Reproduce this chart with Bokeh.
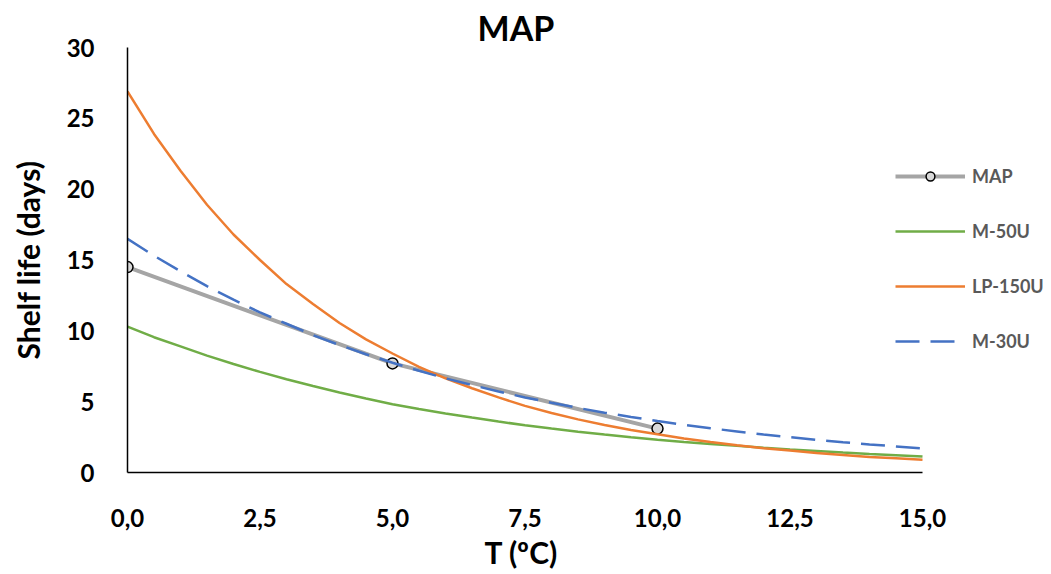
from bokeh.plotting import figure
from bokeh.models import Legend, LegendItem, FixedTicker, Range1d, Title
from bokeh.embed import file_html
from bokeh.resources import INLINE

# ---- data ----
t = [0, 0.5, 1, 1.5, 2, 2.5, 3, 3.5, 4, 4.5, 5, 5.5, 6, 6.5, 7, 7.5,
     8, 8.5, 9, 9.5, 10, 10.5, 11, 11.5, 12, 12.5, 13, 13.5, 14, 14.5, 15]
m50u = [10.3, 9.55, 8.9, 8.25, 7.66, 7.1, 6.58, 6.1, 5.65, 5.22, 4.82, 4.48, 4.17, 3.88, 3.6, 3.33,
        3.1, 2.88, 2.68, 2.49, 2.31, 2.16, 2.02, 1.88, 1.75, 1.63, 1.52, 1.41, 1.31, 1.22, 1.13]
lp150u = [26.9, 23.9, 21.3, 18.9, 16.8, 15.0, 13.3, 11.9, 10.55, 9.4, 8.4, 7.45, 6.65, 5.95, 5.3, 4.7,
          4.2, 3.75, 3.35, 3.0, 2.7, 2.4, 2.15, 1.92, 1.72, 1.55, 1.38, 1.24, 1.1, 1.0, 0.9]
m30u = [16.5, 15.3, 14.2, 13.15, 12.2, 11.3, 10.5, 9.7, 9.0, 8.35, 7.75, 7.18, 6.65, 6.17, 5.72, 5.3,
        4.92, 4.56, 4.22, 3.92, 3.63, 3.37, 3.12, 2.9, 2.68, 2.49, 2.31, 2.14, 1.98, 1.84, 1.7]
map_t = [0, 5, 10]
map_v = [14.5, 7.7, 3.1]
x_ticks = [0, 2.5, 5, 7.5, 10, 12.5, 15]
x_tick_labels = ["0,0", "2,5", "5,0", "7,5", "10,0", "12,5", "15,0"]
y_ticks = [0, 5, 10, 15, 20, 25, 30]

FONT = "Lato"

# frame spans to the right edge (legend lives there); axis lines limited with bounds
p = figure(width=1051, height=574, output_backend="svg", toolbar_location=None,
           x_range=Range1d(0, 15 * 924 / 795), y_range=Range1d(0, 30),
           min_border_left=127, min_border_right=0, min_border_top=47,
           min_border_bottom=102, title="MAP")
p.title.text_font = FONT
p.title.text_font_style = "bold"
p.title.text_font_size = "34px"
p.title.text_color = "black"
p.title.align = "left"
p.title.offset = 350
p.title.standoff = 0
p.outline_line_color = None
p.grid.grid_line_color = None
p.background_fill_color = "white"
p.border_fill_color = "white"

p.xaxis.ticker = FixedTicker(ticks=x_ticks)
p.xaxis.major_label_overrides = {v: s for v, s in zip(x_ticks, x_tick_labels)}
p.yaxis.ticker = FixedTicker(ticks=y_ticks)
p.xaxis.bounds = (0, 15)
p.yaxis.bounds = (0, 30)
for ax in (p.xaxis, p.yaxis):
    ax.axis_line_color = "black"
    ax.axis_line_width = 1.5
    ax.major_tick_line_color = None
    ax.minor_tick_line_color = None
    ax.major_label_text_font = FONT
    ax.major_label_text_font_style = "bold"
    ax.major_label_text_font_size = "24px"
    ax.major_label_text_color = "black"
    ax.axis_label_text_font = FONT
    ax.axis_label_text_font_style = "bold"
    ax.axis_label_text_font_size = "30px"
    ax.axis_label_text_color = "black"
p.xaxis.major_label_standoff = 30
p.yaxis.major_label_standoff = 27
p.yaxis.axis_label = "Shelf life (days)"
p.yaxis.axis_label_standoff = 18

xlabel = Title(text="T (ºC)", align="left", offset=357, standoff=4,
               text_font=FONT, text_font_style="bold", text_font_size="30px",
               text_color="black")
p.add_layout(xlabel, "below")

r_map_line = p.line(map_t, map_v, line_color="#A5A5A5", line_width=4)
r_map_pts = p.scatter(map_t, map_v, marker="circle", size=11, fill_color="#D9D9D9",
                      line_color="black", line_width=1.5)
r_m50 = p.line(t, m50u, line_color="#70AD47", line_width=2.5)
r_lp = p.line(t, lp150u, line_color="#ED7D31", line_width=2.5)
r_m30 = p.line(t, m30u, line_color="#4472C4", line_width=2.5, line_dash="24 11")

legend = Legend(items=[
    LegendItem(label="MAP", renderers=[r_map_line, r_map_pts]),
    LegendItem(label="M-50U", renderers=[r_m50]),
    LegendItem(label="LP-150U", renderers=[r_lp]),
    LegendItem(label="M-30U", renderers=[r_m30]),
], location=(768, 120))
legend.background_fill_alpha = 0
legend.border_line_color = None
legend.padding = 0
legend.margin = 0
legend.spacing = 33
legend.glyph_width = 70
legend.glyph_height = 22
legend.label_height = 22
legend.label_standoff = 7
legend.label_text_font = FONT
legend.label_text_font_style = "bold"
legend.label_text_font_size = "18px"
legend.label_text_color = "#595959"
p.add_layout(legend, "center")

open("out.html", "w").write(file_html(p, INLINE))
